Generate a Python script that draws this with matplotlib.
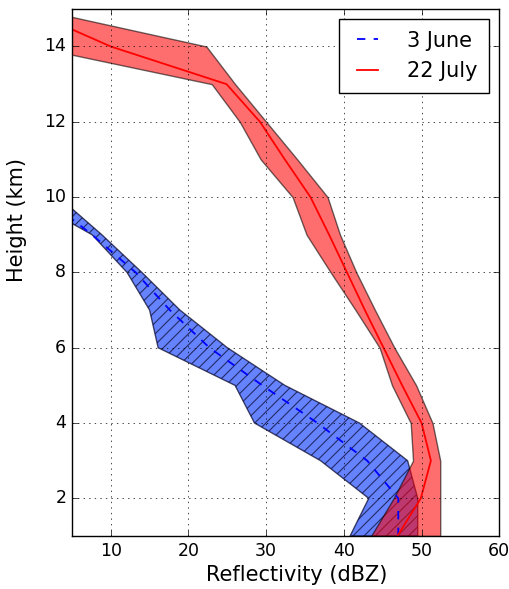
import numpy as np
import matplotlib
matplotlib.use("Agg")
import matplotlib.pyplot as plt

plt.style.use("classic")
plt.rcParams["figure.facecolor"] = "white"
plt.rcParams["savefig.facecolor"] = "white"
plt.rcParams["hatch.linewidth"] = 0.8
plt.rcParams["lines.scale_dashes"] = False

# Heights (km)
heights = np.arange(1, 16)
heights_june = np.arange(1, 11)

# 3 June profile (dBZ)
june_low = [40.8, 43.2, 37.0, 28.5, 26.0, 16.1, 15.0, 12.1, 7.6, -1.0]
june_mid = [47.0, 47.0, 43.0, 36.6, 29.5, 22.7, 17.6, 13.2, 7.6, 1.4]
june_high = [49.5, 49.5, 48.2, 42.0, 32.4, 25.0, 18.9, 14.0, 8.85, 3.3]

# 22 July profile (dBZ)
july_low = [43.5, 46.4, 48.9, 48.6, 46.2, 44.6, 41.5, 38.3, 35.2, 33.4, 29.3, 26.6, 23.0, 0.0, -10.0]
july_mid = [46.9, 49.9, 51.2, 50.0, 47.5, 45.1, 42.7, 40.4, 38.1, 35.7, 32.4, 29.2, 24.9, 10.0, -1.0]
july_high = [52.4, 52.4, 52.4, 51.4, 49.3, 46.5, 44.0, 41.6, 39.5, 37.9, 34.0, 30.0, 26.0, 22.3, 0.3]

fig = plt.figure(figsize=(5.1, 5.89), dpi=100)
ax = fig.add_axes([0.141, 0.09, 0.838, 0.895])

ax.fill_betweenx(heights_june, june_low, june_high, facecolor=(0.2, 0.35, 1.0),
                 edgecolor=(0.05, 0.05, 0.2), alpha=0.75, hatch="///", linewidth=1.0)
ax.fill_betweenx(heights, july_low, july_high, facecolor="r", edgecolor="k",
                 alpha=0.57, linewidth=1.0)
ax.plot(june_mid, heights_june, "b--", dashes=(6, 6), linewidth=1.3, label="3 June")
ax.plot(july_mid, heights, "r-", linewidth=1.3, label="22 July")

ax.set_xlim(5, 60)
ax.set_ylim(1, 15)
ax.set_xticks([10, 20, 30, 40, 50, 60])
ax.set_yticks([2, 4, 6, 8, 10, 12, 14])
ax.grid(True)
ax.set_xlabel("Reflectivity (dBZ)", fontsize=15)
ax.set_ylabel("Height (km)", fontsize=15)
ax.xaxis.set_label_coords(0.525, -0.055)
ax.yaxis.set_label_coords(-0.105, 0.6)
ax.tick_params(labelsize=12.5)

leg = ax.legend(loc="upper right", fontsize=15, handlelength=1.6,
                handletextpad=1.1, labelspacing=0.5, borderpad=0.55)

fig.savefig("out.png", dpi=100)
